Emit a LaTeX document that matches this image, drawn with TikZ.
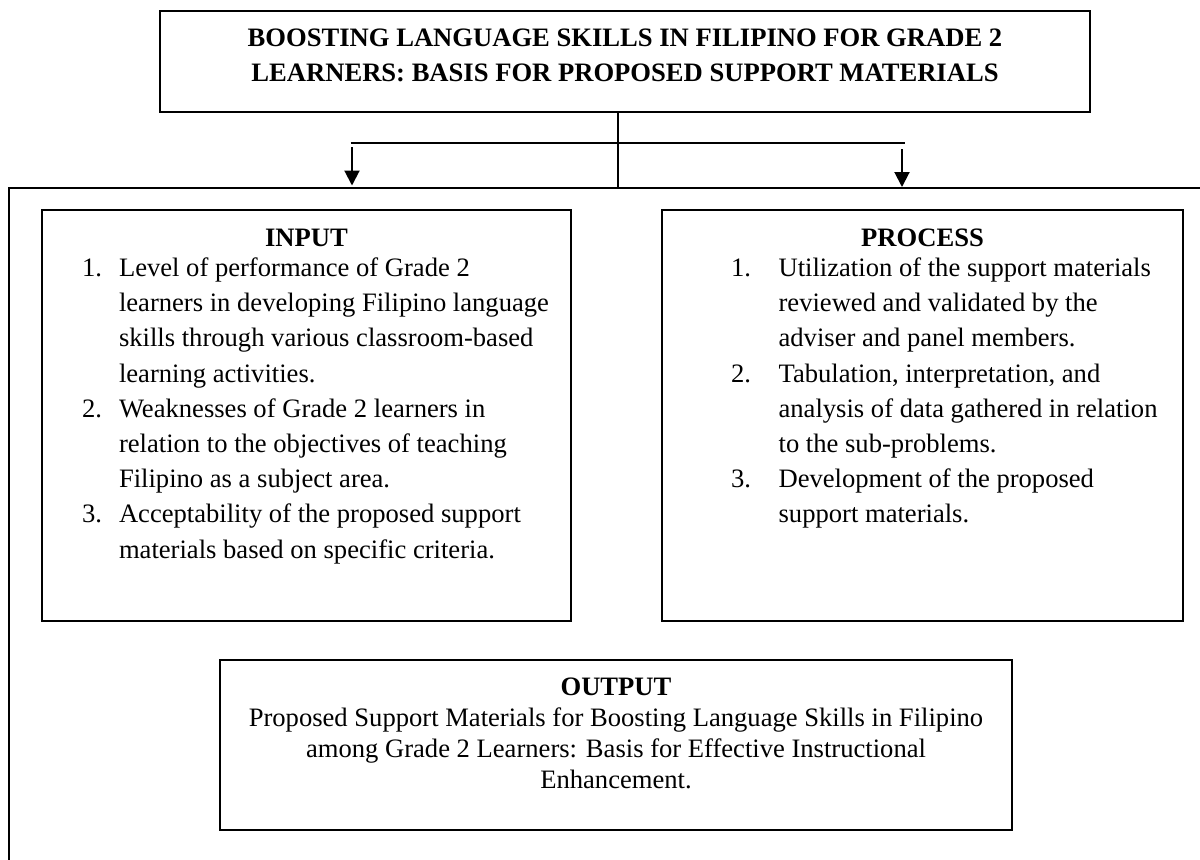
\documentclass[tikz,border=0pt]{standalone}
\usepackage{fontspec}
\setmainfont{Liberation Serif}
\usepackage{tikz}
\usetikzlibrary{arrows.meta, positioning}

\newcommand{\boxtext}[3]{\parbox[c][#2][t]{#1}{#3}}

\begin{document}
\begin{tikzpicture}[
      x=0.5pt, y=-0.5pt,
      box/.style={rectangle, draw, line width=1pt, inner sep=0pt, font=\fontsize{13.3pt}{17.6pt}\selectfont},
      line/.style={line width=0.9pt},
      arrow/.style={-{Triangle[length=7.5pt, width=7.5pt]}, line width=1pt}
    ]
    \useasboundingbox (0,0) rectangle (1200,859);

    % Nodes
    \node[box] (title) at (625,61.5) {\boxtext{465pt}{50.5pt}{\centering\bfseries
        \rule{0pt}{17.75pt}BOOSTING LANGUAGE SKILLS IN FILIPINO FOR GRADE 2\\
        LEARNERS: BASIS FOR PROPOSED SUPPORT MATERIALS}};

    \node[box] (input) at (306.5,415.5) {\boxtext{264.5pt}{205.5pt}{%
        {\centering\bfseries\rule{0pt}{18.25pt}INPUT\par}\vspace{-2.6pt}
        \hspace*{20pt}\begin{tabular}[t]{@{}p{18.5pt}@{}l@{}}
          1. & Level of performance of Grade 2\\
             & learners in developing Filipino language\\
             & skills through various classroom-based\\
             & learning activities.\\
          2. & Weaknesses of Grade 2 learners in\\
             & relation to the objectives of teaching\\
             & Filipino as a subject area.\\
          3. & Acceptability of the proposed support\\
             & materials based on specific criteria.
        \end{tabular}}};

    \node[box] (process) at (922.5,415.5) {\boxtext{260.5pt}{205.5pt}{%
        {\centering\bfseries\rule{0pt}{18.25pt}PROCESS\par}\vspace{-2.6pt}
        \hspace*{34.5pt}\begin{tabular}[t]{@{}p{23.8pt}@{}l@{}}
          1. & Utilization of the support materials\\
             & reviewed and validated by the\\
             & adviser and panel members.\\
          2. & Tabulation, interpretation, and\\
             & analysis of data gathered in relation\\
             & to the sub-problems.\\
          3. & Development of the proposed\\
             & support materials.
        \end{tabular}}};

    \node[box, font=\fontsize{13.3pt}{15.5pt}\selectfont] (output) at (616,745) {\boxtext{396pt}{85pt}{\centering
        \rule{0pt}{17.5pt}\textbf{OUTPUT}\\
        Proposed Support Materials for Boosting Language Skills in Filipino\\
        among Grade 2 Learners: Basis for Effective Instructional\\
        Enhancement.}};

    % Frame
    \draw[line, line width=1pt] (9,870) -- (9,188.3) -- (1210,188.3);

    % Connectors
    \coordinate (fork) at (618,142.7);
    \coordinate (frame) at (618,188.3);
    \coordinate (forkL) at (350.5,142.7);
    \coordinate (forkR) at (905,142.7);
    \coordinate (inStart) at (352,147.3);
    \coordinate (inTip) at (352,185.5);
    \coordinate (procStart) at (902,149.3);
    \coordinate (procTip) at (902,187);

    \draw[line] (title.south -| fork) -- (frame);
    \draw[line] (forkL) -- (forkR);
    \draw[arrow] (inStart) -- (inTip);
    \draw[arrow] (procStart) -- (procTip);

\end{tikzpicture}
\end{document}
